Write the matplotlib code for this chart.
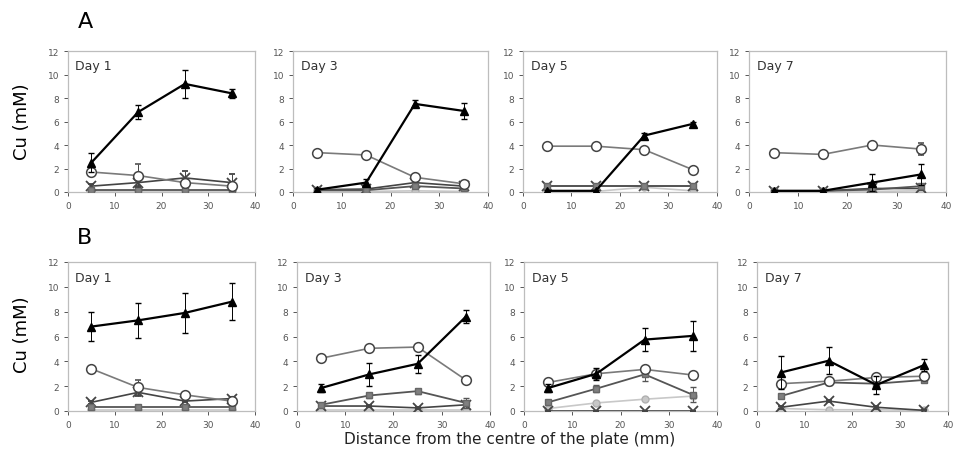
import matplotlib.pyplot as plt

dist = [5, 15, 25, 35]
days = ["Day 1", "Day 3", "Day 5", "Day 7"]

# Row A, one list per day
a_tri = [[2.5, 6.8, 9.2, 8.4], [0.2, 0.8, 7.5, 6.9], [0.1, 0.1, 4.8, 5.8], [0.1, 0.1, 0.8, 1.5]]
a_tri_err = [[0.8, 0.6, 1.2, 0.4], [0.1, 0.3, 0.3, 0.7], [0.1, 0.1, 0.2, 0.2], [0.1, 0.1, 0.7, 0.9]]
a_circ = [[1.7, 1.4, 0.8, 0.5], [3.35, 3.15, 1.25, 0.7], [3.9, 3.9, 3.6, 1.9], [3.35, 3.2, 4.0, 3.65]]
a_circ_err = [[0.2, 1.0, 0.3, 0.2], [0.1, 0.1, 0.1, 0.1], [0.1, 0.1, 0.1, 0.1], [0.1, 0.1, 0.1, 0.5]]
a_cross = [[0.5, 0.8, 1.2, 0.8], [0.2, 0.25, 0.8, 0.5], [0.5, 0.5, 0.5, 0.5], [0.1, 0.1, 0.3, 0.3]]
a_cross_err = [[0.2, 0.3, 0.6, 0.7], [0.1, 0.1, 0.1, 0.1], [0.0, 0.0, 0.0, 0.0], [0.0, 0.0, 0.1, 0.1]]
a_sq = [[0.2, 0.2, 0.2, 0.2], [0.15, 0.15, 0.5, 0.3], [0.5, 0.5, 0.5, 0.5], [0.1, 0.1, 0.2, 0.5]]
a_light = [[0.05, 0.05, 0.05, 0.05], [0.05, 0.05, 0.1, 0.05], [0.05, 0.05, 0.4, 0.1], [0.05, 0.05, 0.05, 0.1]]

# Row B
b_tri = [[6.8, 7.3, 7.9, 8.8], [1.85, 2.95, 3.8, 7.6], [1.85, 3.0, 5.75, 6.05], [3.1, 4.05, 2.1, 3.7]]
b_tri_err = [[1.2, 1.4, 1.6, 1.5], [0.3, 0.9, 0.7, 0.5], [0.3, 0.5, 0.9, 1.2], [1.3, 1.1, 0.7, 0.5]]
b_circ = [[3.4, 1.9, 1.3, 0.8], [4.25, 5.05, 5.15, 2.5], [2.3, 3.0, 3.35, 2.9], [2.2, 2.4, 2.7, 2.8]]
b_circ_err = [[0.1, 0.6, 0.1, 0.1], [0.1, 0.1, 0.1, 0.1], [0.1, 0.2, 0.1, 0.1], [0.1, 0.1, 0.1, 0.1]]
b_cross = [[0.7, 1.5, 0.8, 1.0], [0.4, 0.4, 0.25, 0.5], [0.0, 0.0, 0.0, 0.0], [0.3, 0.8, 0.3, 0.05]]
b_cross_err = [[0.1, 0.3, 0.1, 0.1], [0.1, 0.1, 0.1, 0.1], [0.0, 0.0, 0.0, 0.0], [0.1, 0.1, 0.1, 0.0]]
b_sq = [[0.3, 0.3, 0.3, 0.3], [0.5, 1.25, 1.6, 0.65], [0.7, 1.8, 2.95, 1.3], [1.2, 2.3, 2.2, 2.5]]
b_sq_err = [[0.0, 0.0, 0.0, 0.0], [0.1, 0.2, 0.2, 0.4], [0.1, 0.3, 0.5, 0.6], [0.1, 0.2, 0.2, 0.2]]
b_light = [[0.1, 0.1, 0.1, 0.1], [0.1, 0.1, 0.1, 0.1], [0.2, 0.65, 0.95, 1.2], [0.2, 0.1, 0.1, 0.05]]

fig = plt.figure(figsize=(9.54, 4.77), dpi=100)
W, H = 954, 477

lefts_a = [68, 293, 523, 749]
widths_a = [187, 195, 194, 197]
lefts_b = [68, 297, 524, 757]
widths_b = [187, 193, 193, 191]


def draw_panel(ax, day, tri, tri_e, circ, circ_e, cross, cross_e, sq, sq_e, light):
    ax.plot(dist, light, color="#c8c8c8", lw=1.2, marker="o", ms=5,
            mfc="#c8c8c8", mec="#b0b0b0", zorder=2)
    ax.errorbar(dist, cross, yerr=cross_e, color="#444444", lw=1.2, marker="x",
                ms=7, mew=1.3, elinewidth=0.7, capsize=2, zorder=3)
    ax.errorbar(dist, sq, yerr=sq_e, color="#555555", lw=1.3, marker="s", ms=4.5,
                mfc="#808080", mec="#666666", elinewidth=0.7, capsize=2, zorder=4)
    ax.errorbar(dist, circ, yerr=circ_e, color="#7a7a7a", lw=1.2, marker="o", ms=7,
                mfc="white", mec="#444444", mew=1.1, elinewidth=0.7, ecolor="#444444",
                capsize=2, zorder=5)
    ax.errorbar(dist, tri, yerr=tri_e, color="black", lw=1.6, marker="^", ms=6,
                elinewidth=0.7, capsize=2, zorder=6)
    ax.set_xlim(0, 40)
    ax.set_ylim(0, 12)
    ax.set_xticks([0, 10, 20, 30, 40])
    ax.set_yticks([0, 2, 4, 6, 8, 10, 12])
    ax.tick_params(labelsize=6.5, colors="#555555", length=3, width=0.7)
    for s in ax.spines.values():
        s.set_color("#bdbdbd")
        s.set_linewidth(0.9)
    ax.text(0.04, 0.94, day, transform=ax.transAxes, fontsize=9, color="#333333",
            va="top", ha="left")


for i in range(4):
    ax = fig.add_axes([lefts_a[i] / W, 1 - 193 / H, widths_a[i] / W, 141 / H])
    draw_panel(ax, days[i], a_tri[i], a_tri_err[i], a_circ[i], a_circ_err[i],
               a_cross[i], a_cross_err[i], a_sq[i], [0] * 4, a_light[i])
    ax = fig.add_axes([lefts_b[i] / W, 1 - 412 / H, widths_b[i] / W, 149 / H])
    draw_panel(ax, days[i], b_tri[i], b_tri_err[i], b_circ[i], b_circ_err[i],
               b_cross[i], b_cross_err[i], b_sq[i], b_sq_err[i], b_light[i])

fig.text(85 / W, 1 - 22 / H, "A", fontsize=16, ha="center", va="center")
fig.text(85 / W, 1 - 238 / H, "B", fontsize=16, ha="center", va="center")
fig.text(22 / W, 1 - 122 / H, "Cu (mM)", fontsize=13, rotation=90, ha="center", va="center")
fig.text(22 / W, 1 - 335 / H, "Cu (mM)", fontsize=13, rotation=90, ha="center", va="center")
fig.text(510 / W, 1 - 440 / H, "Distance from the centre of the plate (mm)",
         fontsize=11, ha="center", va="center", color="#222222")

fig.savefig("out.png", dpi=100)
